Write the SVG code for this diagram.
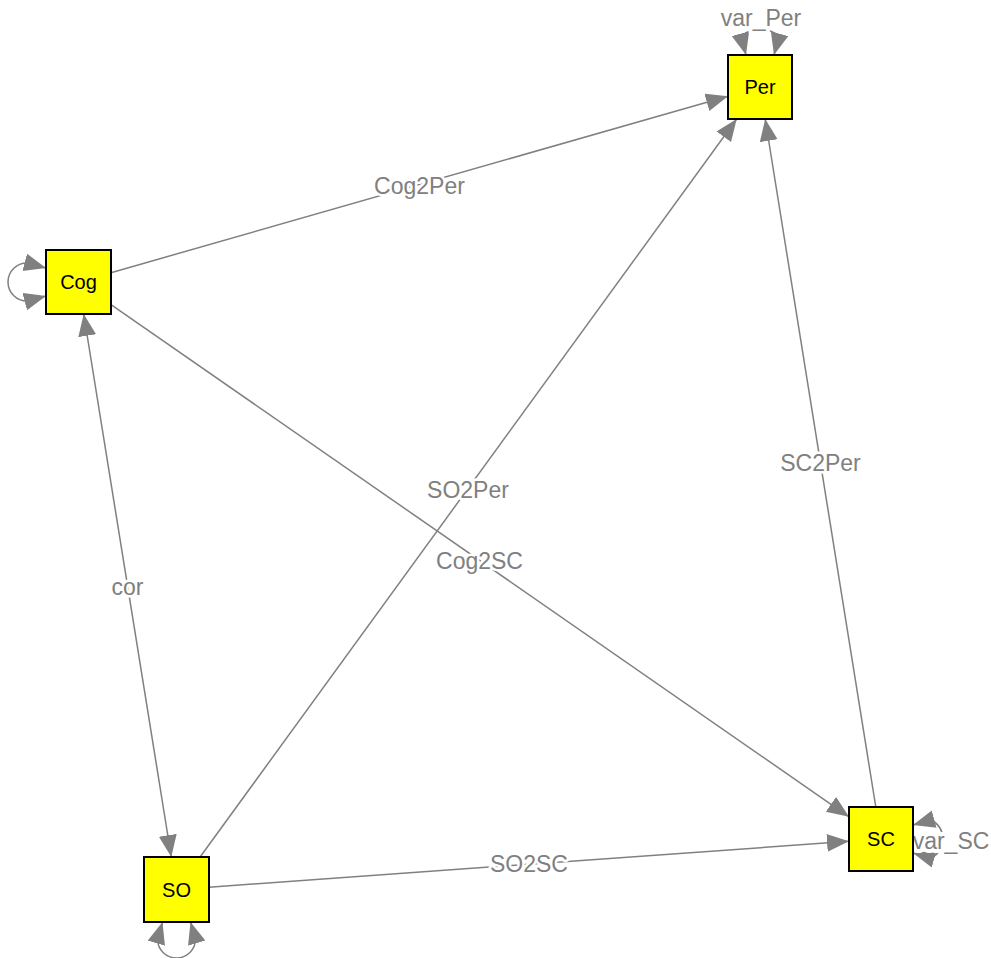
<svg xmlns="http://www.w3.org/2000/svg" width="991" height="958" viewBox="0 0 991 958">
<style>
.e{fill:none;stroke:#808080;stroke-width:1.5;marker-end:url(#ah)}
.b{marker-start:url(#ah)}
.box{fill:#ffff00;stroke:#000;stroke-width:2}
.nl{font-family:"Liberation Sans",Arial,sans-serif;font-size:20px;fill:#000;text-anchor:middle}
.el{font-family:"Liberation Sans",Arial,sans-serif;font-size:23px;fill:#808080;text-anchor:middle;paint-order:stroke;stroke:#fff;stroke-width:5;stroke-linejoin:round}
.ll{stroke-width:8}
</style>
<defs>
<marker id="ah" markerUnits="userSpaceOnUse" markerWidth="24" markerHeight="20" refX="22" refY="9" orient="auto-start-reverse"><path d="M0,0 L22,9 L0,18 z" fill="#808080"/></marker>
</defs>
<g id="edges">
<path id="e-cog2per" class="e" d="M111,272.7 L728,96.2"/>
<path id="e-cog2sc" class="e" d="M111,304.6 L849,816.8"/>
<path id="e-so2per" class="e" d="M200.1,857 L736.7,119"/>
<path id="e-sc2per" class="e" d="M875.8,807 L765.2,119"/>
<path id="e-so2sc" class="e" d="M209,887.2 L849,841.3"/>
<path id="e-cor" class="e b" d="M83.7,314 L171.3,857"/>
<path id="e-varper" class="e b" d="M746,55 L741,36 A30,30 0 0,1 779,36 L774,55"/>
<path id="e-varcog" class="e b" d="M46,268 L27,263 A19,19 0 1,0 27,301 L46,296"/>
<path id="e-varso" class="e b" d="M162.5,922 L157.5,939 A19,19 0 1,0 195.5,939 L190.5,922"/>
<path id="e-varsc" class="e b" d="M913,825 L931,820 A21,21 0 0,1 931,858 L913,853"/>
</g>
<g id="edge-labels">
<text class="el" x="419.5" y="194">Cog2Per</text>
<text class="el" x="479.5" y="569">Cog2SC</text>
<text class="el" x="468" y="498">SO2Per</text>
<text class="el" x="820.5" y="471">SC2Per</text>
<text class="el" x="529" y="872">SO2SC</text>
<text class="el" x="127.5" y="595">cor</text>
<text class="el ll" x="761" y="26">var_Per</text>
<text class="el ll" x="951" y="849">var_SC</text>
</g>
<g id="node-Per"><rect class="box" x="728" y="55" width="64" height="64"/><text class="nl" x="760" y="94">Per</text></g>
<g id="node-Cog"><rect class="box" x="46" y="250" width="65" height="64"/><text class="nl" x="78.5" y="289">Cog</text></g>
<g id="node-SO"><rect class="box" x="144" y="857" width="65" height="65"/><text class="nl" x="176.5" y="897">SO</text></g>
<g id="node-SC"><rect class="box" x="849" y="807" width="64" height="64"/><text class="nl" x="881" y="846">SC</text></g>
</svg>
